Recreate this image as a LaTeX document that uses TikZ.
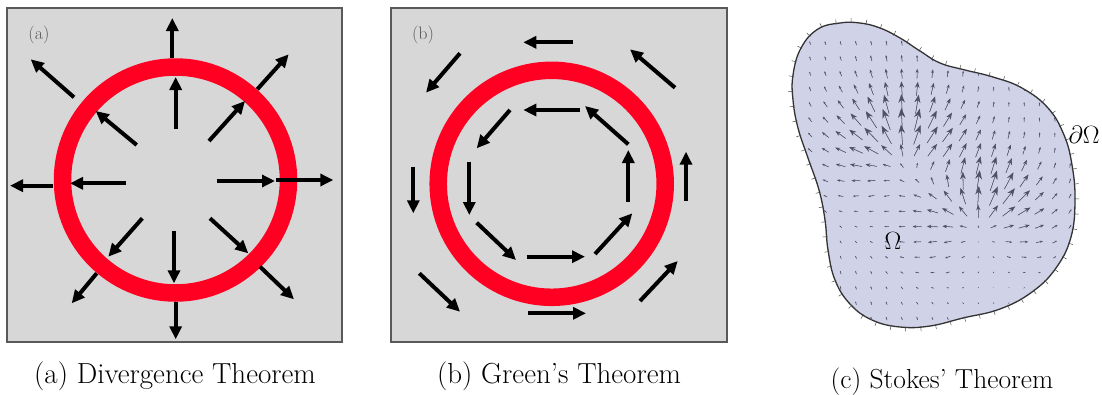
\RequirePackage{fix-cm}
\documentclass[tikz,border=0pt]{standalone}
\usepackage{fontspec}
\usetikzlibrary{arrows.meta,decorations.markings}
\definecolor{panelbg}{RGB}{215,215,215}
\definecolor{ringred}{RGB}{255,0,35}
\definecolor{blobfill}{RGB}{208,210,232}
\definecolor{labgray}{RGB}{90,90,90}
\definecolor{fieldline}{RGB}{80,80,100}
\definecolor{fieldhead}{RGB}{20,20,40}
\tikzset{
  bigarrow/.style={line width=4pt, -{Triangle[length=13pt,width=12pt]}},
  panel/.style={fill=panelbg, draw=black!65, line width=1.5pt},
  ring/.style={draw=ringred, line width=17.5pt},
  captiontext/.style={font=\fontsize{29}{33}\selectfont, inner sep=0pt},
  sublabel/.style={font=\fontsize{18}{20}\selectfont, text=labgray, inner sep=0pt},
  mathlabel/.style={font=\fontsize{25}{28}\selectfont, inner sep=0pt},
  fieldarrow/.style={draw=fieldline, fill=fieldhead, line width=0.55pt},
  bordertick/.style={draw=black!70, line width=0.5pt},
}
\begin{document}
\begin{tikzpicture}[x=1pt,y=-1pt]
\useasboundingbox (0,0) rectangle (1102,394);
% ---------- panel (a)
\draw[panel] (7,8) rectangle (342,342);
\node[sublabel] (la) at (39,35) {(a)};
\coordinate (ca) at (175.5,180);
\draw[ring] (ca) circle[radius=113];
\draw[bigarrow] (175.7,129) -- (175.7,77);
\draw[bigarrow] (172.3,58) -- (172.3,18);
\draw[bigarrow] (216.7,181) -- (275,181);
\draw[bigarrow] (276,180) -- (333.3,180);
\draw[bigarrow] (126,183.3) -- (70,183.3);
\draw[bigarrow] (53,185.7) -- (10,185.7);
\draw[bigarrow] (174,231) -- (174,283.3);
\draw[bigarrow] (175.7,301.7) -- (175.7,339.3);
\draw[bigarrow] (136.7,145) -- (95.7,111);
\draw[bigarrow] (74,97.3) -- (30.7,59.3);
\draw[bigarrow] (209,141) -- (245,101);
\draw[bigarrow] (257.3,89.3) -- (288.7,54.3);
\draw[bigarrow] (142.3,218.3) -- (108.3,256.7);
\draw[bigarrow] (96.7,273.3) -- (71.7,303.3);
\draw[bigarrow] (210,218.3) -- (248.3,253.3);
\draw[bigarrow] (260,266.7) -- (294,299.3);
\node[captiontext] (capa) at (175,376) {(a) Divergence Theorem};
% ---------- panel (b)
\draw[panel] (391,8) rectangle (727,342);
\node[sublabel] (lb) at (423,35) {(b)};
\coordinate (cb) at (551.7,183.8);
\draw[ring] (cb) circle[radius=113.5];
% outer
\draw[bigarrow] (573.3,42.3) -- (523.3,42.3);
\draw[bigarrow] (460,53.3) -- (426,92.7);
\draw[bigarrow] (413.3,166.7) -- (413.3,213.3);
\draw[bigarrow] (419.3,273.3) -- (460,311.7);
\draw[bigarrow] (527.7,313.3) -- (586,313.3);
\draw[bigarrow] (640,301) -- (677.7,261);
\draw[bigarrow] (686,201) -- (686,151.7);
\draw[bigarrow] (675,87.7) -- (630,49.3);
% inner
\draw[bigarrow] (580,110) -- (523.3,110);
\draw[bigarrow] (510,110) -- (476.7,148.3);
\draw[bigarrow] (469.3,161.7) -- (469.3,215);
\draw[bigarrow] (476.7,222.7) -- (516,260);
\draw[bigarrow] (526.7,256.7) -- (585,256.7);
\draw[bigarrow] (595,254) -- (632.3,213.3);
\draw[bigarrow] (628.3,201.7) -- (628.3,150);
\draw[bigarrow] (628.3,144.3) -- (585,106);
\node[captiontext] (capb) at (559,376) {(b) Green's Theorem};
% ---------- panel (c)
\draw[fill=blobfill, draw=black!80, line width=1.3pt,
  postaction={decorate, decoration={markings,
    mark=between positions 0 and 1 step 15pt with {\draw[bordertick] (0,-1pt) -- (0,4pt);}}}]
  plot[smooth cycle, tension=0.7] coordinates {(793,75) (801,48) (818,29) (840,23) (860,23) (880,28) (900,38) (920,51) (940,63) (965,70) (993,77) (1022,88) (1048,108) (1064,135) (1072,165) (1075,200) (1071,237) (1056,268) (1032,292) (1000,309) (963,318) (930,326) (900,327) (872,320) (850,304) (835,280) (828,250) (825,220) (819,190) (808,158) (798,128) (793,100)};
\begin{scope}
\clip plot[smooth cycle, tension=0.7] coordinates {(793,75) (801,48) (818,29) (840,23) (860,23) (880,28) (900,38) (920,51) (940,63) (965,70) (993,77) (1022,88) (1048,108) (1064,135) (1072,165) (1075,200) (1071,237) (1056,268) (1032,292) (1000,309) (963,318) (930,326) (900,327) (872,320) (850,304) (835,280) (828,250) (825,220) (819,190) (808,158) (798,128) (793,100)};
\foreach \i in {0,...,17}{\foreach \j in {0,...,19}{
  \pgfmathsetmacro\px{810+15.3*\i}
  \pgfmathsetmacro\py{43+15.3*\j}
  \pgfmathsetmacro\ax{(\px-902)/40}
  \pgfmathsetmacro\ay{(\py-160)/40}
  \pgfmathsetmacro\ar{max(veclen(\ax,\ay),0.001)}
  \pgfmathsetmacro\fA{12*exp((1-\ar*\ar)/2)*(1-0.6*\ay/\ar)}
  \pgfmathsetmacro\bx{(\px-980)/40}
  \pgfmathsetmacro\by{(\py-226)/40}
  \pgfmathsetmacro\br{max(veclen(\bx,\by),0.001)}
  \pgfmathsetmacro\fB{12*exp((1-\br*\br)/2)*(1-0.6*\by/\br)}
  \pgfmathsetmacro\vx{\ax*\fA+\bx*\fB-0.8}
  \pgfmathsetmacro\vy{\ay*\fA+\by*\fB-3.4}
  \pgfmathsetmacro\vl{max(veclen(\vx,\vy),0.1)}
  \pgfmathsetmacro\hlen{0.42*\vl}
  \pgfmathsetmacro\hwid{0.32*\vl}
  \draw[fieldarrow, -{Stealth[length=\hlen pt, width=\hwid pt]}]
    (\px-0.5*\vx, \py-0.5*\vy) -- (\px+0.5*\vx, \py+0.5*\vy);
}}
\end{scope}
\node[mathlabel] (om) at (893,241) {$\Omega$};
\node[mathlabel] (dom) at (1084,135) {$\partial\Omega$};
\node[font=\fontsize{27.5}{31}\selectfont, inner sep=0pt] (capc) at (942,382) {(c) Stokes' Theorem};
\end{tikzpicture}
\end{document}
